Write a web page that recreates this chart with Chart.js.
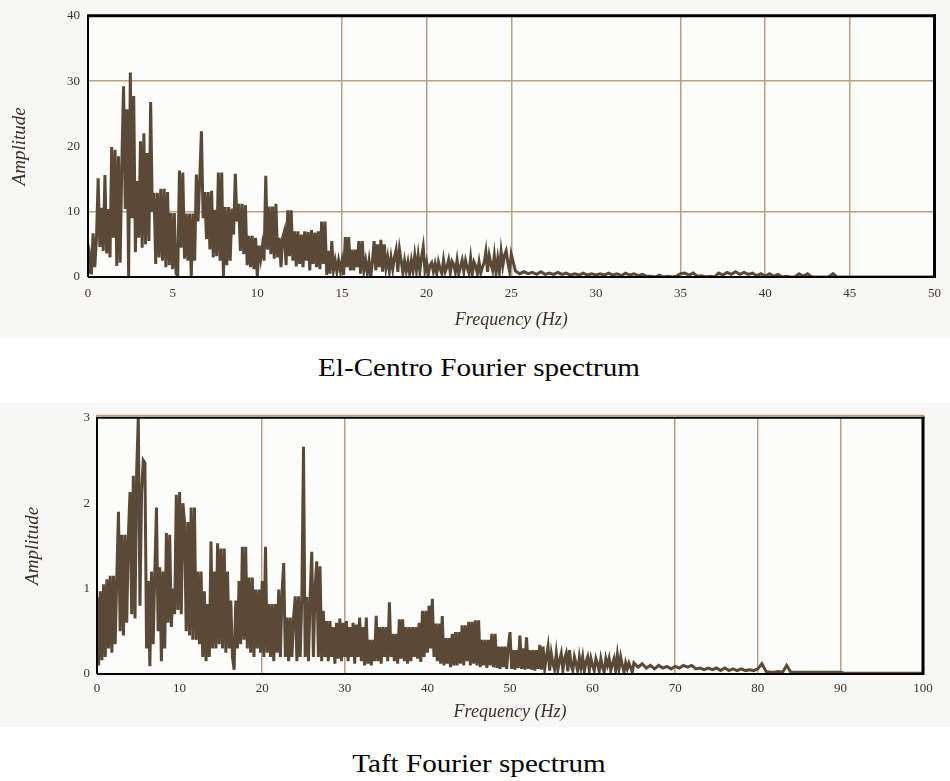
<!DOCTYPE html>
<html>
<head>
<meta charset="utf-8">
<script src="https://cdn.jsdelivr.net/npm/chart.js@4.4.0/dist/chart.umd.min.js"></script>
<style>
  body { margin: 0; width: 950px; height: 781px; position: relative; overflow: hidden; background: #fff; font-family: "Liberation Serif", serif; }
  .panel { position: absolute; left: 0; background: #f7f8f5; }
  #elWrap { top: 0; width: 950px; height: 337px; }
  #taftWrap { top: 403px; width: 950px; height: 324px; }
  .caption { position: absolute; left: 0; width: 958px; text-align: center; font-size: 26px; line-height: 30px; color: #000; transform: scaleX(1.12); transform-origin: 479px 50%; }
</style>
</head>
<body>
<div class="panel" id="elWrap"><canvas id="elChart" width="950" height="337"></canvas></div>
<div class="caption" style="top:353px">El-Centro Fourier spectrum</div>
<div class="panel" id="taftWrap"><canvas id="taftChart" width="950" height="324"></canvas></div>
<div class="caption" style="top:749px">Taft Fourier spectrum</div>
<script>
// El-Centro spectrum, 0.1 Hz bins from 0 to 25 Hz
const elStep = 0.1;
const elAmp = [
  0.5, 3.0, 0.4, 6.7, 1.5, 5.8, 15.1, 4.6, 10.6, 4.0,
  15.6, 3.6, 10.4, 3.0, 19.9, 6.0, 19.5, 1.7, 18.5, 2.2,
  17.6, 29.2, 10.4, 25.7, 0.0, 31.3, 9.0, 27.7, 3.8, 14.7,
  6.0, 20.8, 4.5, 22.0, 5.0, 19.0, 5.5, 26.8, 10.0, 12.9,
  2.0, 12.9, 3.0, 13.5, 2.5, 13.5, 1.5, 13.0, 1.8, 9.8,
  1.2, 9.8, 0.6, 0.0, 16.3, 4.5, 16.0, 2.8, 9.7, 2.5,
  9.7, 0.0, 9.7, 2.5, 15.7, 8.5, 15.0, 22.3, 9.0, 13.0,
  5.8, 13.0, 4.2, 13.2, 3.0, 10.3, 3.2, 16.0, 2.5, 16.0,
  0.0, 10.7, 1.8, 10.7, 2.5, 10.5, 6.5, 15.8, 8.5, 11.2,
  4.0, 11.2, 3.5, 11.0, 1.8, 6.3, 1.5, 6.3, 1.2, 6.0,
  0.0, 4.8, 2.8, 4.8, 2.5, 15.5, 4.2, 10.8, 3.5, 10.8,
  2.8, 11.2, 3.0, 6.0, 1.5, 6.0, 7.0, 1.8, 10.2, 3.2,
  10.2, 2.5, 7.0, 1.6, 7.0, 2.0, 6.5, 1.5, 7.0, 2.5,
  6.9, 1.0, 7.2, 2.0, 6.8, 1.5, 7.0, 1.2, 8.5, 2.0,
  8.5, 0.3, 4.0, 0.5, 5.5, 1.0, 2.5, 0.8, 2.5, 1.0,
  2.5, 0.3, 6.1, 1.5, 6.1, 1.0, 4.2, 1.0, 4.2, 1.5,
  5.5, 0.5, 5.5, 1.0, 2.5, 0.6, 2.5, 0.0, 2.4, 5.5,
  1.0, 5.0, 1.5, 5.7, 0.8, 5.0, 1.4, 3.0, 0.9, 3.0,
  1.2, 3.0, 4.2, 0.8, 4.2, 2.5, 0.6, 2.5, 0.9, 2.3,
  0.5, 2.5, 0.9, 3.3, 1.0, 3.3, 0.8, 3.0, 4.6, 1.0,
  2.3, 0.4, 1.8, 2.2, 0.8, 2.0, 0.5, 2.3, 1.2, 0.5,
  2.6, 0.8, 1.5, 2.6, 0.6, 2.4, 1.9, 0.7, 2.6, 0.5,
  1.6, 2.6, 0.8, 2.5, 1.4, 0.6, 2.9, 0.4, 2.3, 1.7,
  0.5, 2.3, 0.6, 1.5, 2.2, 3.9, 0.8, 3.3, 2.0, 1.0,
  3.3, 0.6, 2.8, 0.8, 3.9, 1.7, 3.3, 4.0, 2.2, 0.9,
  3.5
];
// El-Centro tail, 0.25 Hz bins from 25.25 to 50 Hz
const elTailStart = 25.25;
const elTailStep = 0.25;
const elTailAmp = [
  0.9, 0.5, 0.8, 0.5, 0.7, 0.4, 0.8, 0.4, 0.6, 0.4,
  0.7, 0.4, 0.6, 0.3, 0.5, 0.3, 0.6, 0.3, 0.5, 0.3,
  0.5, 0.3, 0.6, 0.3, 0.5, 0.2, 0.6, 0.3, 0.5, 0.2,
  0.4, 0.1, 0.1, 0.0, 0.3, 0.0, 0.1, 0.0, 0.1, 0.5,
  0.6, 0.3, 0.6, 0.1, 0.2, 0.0, 0.1, 0.0, 0.6, 0.3,
  0.7, 0.4, 0.8, 0.4, 0.7, 0.4, 0.6, 0.2, 0.5, 0.1,
  0.5, 0.1, 0.4, 0.0, 0.1, 0.0, 0.0, 0.5, 0.1, 0.5,
  0.0, 0.0, 0.0, 0.0, 0.0, 0.5, 0.0, 0.0, 0.0, 0.0,
  0.0, 0.0, 0.0, 0.0, 0.0, 0.0, 0.0, 0.0, 0.0, 0.0,
  0.0, 0.0, 0.0, 0.0, 0.0, 0.0, 0.0, 0.0, 0.0, 0.0
];
const elXTicks = [0, 5, 10, 15, 20, 25, 30, 35, 40, 45, 50];
const elYTicks = [0, 10, 20, 30, 40];
const elXGrid = [15, 20, 25, 35, 40, 45];
const elYGrid = [10, 30];

// Taft spectrum, 0.2 Hz bins from 0 to 65 Hz
const taftStep = 0.2;
const taftAmp = [
  0.9, 0.1, 0.97, 0.16, 1.05, 0.2, 1.11, 0.3, 1.15, 0.25,
  1.15, 0.35, 1.15, 1.9, 0.5, 1.63, 0.45, 1.63, 0.6, 1.63,
  2.13, 0.7, 2.32, 0.65, 2.36, 3.0, 0.8, 2.13, 2.5, 2.47,
  0.3, 1.09, 0.09, 1.2, 0.35, 1.2, 1.95, 0.5, 1.25, 0.15,
  1.2, 0.3, 1.65, 0.6, 1.63, 0.55, 1.0, 0.7, 2.1, 0.75,
  2.13, 0.7, 2.0, 1.78, 0.5, 1.78, 0.45, 1.95, 0.4, 1.95,
  0.4, 1.2, 0.35, 1.2, 0.2, 0.97, 0.15, 0.82, 0.2, 1.55,
  0.3, 1.2, 0.3, 1.53, 0.35, 1.47, 0.3, 1.47, 0.25, 1.2,
  0.3, 0.86, 0.2, 0.05, 0.86, 0.3, 1.09, 0.35, 1.49, 0.4,
  1.49, 0.3, 1.13, 0.25, 1.13, 0.2, 0.99, 0.3, 0.99, 0.25,
  1.09, 0.2, 1.49, 0.25, 0.82, 0.2, 0.82, 0.15, 0.82, 0.25,
  0.99, 0.2, 0.95, 1.3, 0.2, 0.66, 0.15, 0.66, 0.2, 0.66,
  0.91, 0.15, 0.91, 0.2, 0.9, 2.66, 0.2, 0.9, 0.15, 0.9,
  1.43, 0.2, 1.0, 1.32, 0.2, 1.26, 0.15, 0.74, 0.2, 0.62,
  0.15, 0.62, 0.2, 0.55, 0.12, 0.6, 0.18, 0.65, 0.15, 0.6,
  0.2, 0.62, 0.15, 0.55, 0.2, 0.6, 0.12, 0.58, 0.2, 0.66,
  0.15, 0.55, 0.1, 0.66, 0.12, 0.4, 0.1, 0.4, 0.15, 0.68,
  0.15, 0.55, 0.12, 0.55, 0.2, 0.55, 0.15, 0.84, 0.2, 0.47,
  0.15, 0.47, 0.12, 0.64, 0.18, 0.64, 0.15, 0.55, 0.12, 0.55,
  0.15, 0.55, 0.2, 0.55, 0.18, 0.6, 0.14, 0.74, 0.2, 0.74,
  0.25, 0.8, 0.3, 0.88, 0.2, 0.59, 0.15, 0.59, 0.12, 0.68,
  0.1, 0.42, 0.12, 0.42, 0.08, 0.47, 0.1, 0.49, 0.1, 0.49,
  0.12, 0.57, 0.1, 0.57, 0.15, 0.61, 0.1, 0.61, 0.12, 0.63,
  0.1, 0.63, 0.08, 0.4, 0.1, 0.4, 0.07, 0.4, 0.1, 0.47,
  0.08, 0.47, 0.07, 0.32, 0.06, 0.32, 0.08, 0.32, 0.06, 0.32,
  0.49, 0.06, 0.28, 0.05, 0.28, 0.07, 0.45, 0.06, 0.3, 0.05,
  0.43, 0.06, 0.28, 0.05, 0.28, 0.04, 0.28, 0.06, 0.34, 0.05,
  0.32, 0.06, 0.2, 0.32, 0.04, 0.24, 0.12, 0.05, 0.24, 0.05,
  0.16, 0.24, 0.04, 0.18, 0.24, 0.03, 0.28, 0.1, 0.04, 0.2,
  0.12, 0.03, 0.2, 0.08, 0.2, 0.03, 0.14, 0.2, 0.04, 0.18,
  0.1, 0.04, 0.18, 0.12, 0.03, 0.18, 0.08, 0.02, 0.18, 0.1,
  0.18, 0.04, 0.12, 0.18, 0.03, 0.22, 0.06, 0.2, 0.1, 0.02,
  0.13, 0.06, 0.13, 0.08, 0.02, 0.13
];
// Taft tail, 0.5 Hz bins from 65.5 to 100 Hz
const taftTailStart = 65.5;
const taftTailStep = 0.5;
const taftTailAmp = [
  0.08, 0.12, 0.07, 0.1, 0.06, 0.1, 0.07, 0.09, 0.06, 0.09,
  0.07, 0.1, 0.08, 0.1, 0.06, 0.07, 0.05, 0.07, 0.05, 0.07,
  0.04, 0.07, 0.04, 0.06, 0.04, 0.06, 0.04, 0.05, 0.04, 0.06,
  0.12, 0.03, 0.02, 0.02, 0.03, 0.02, 0.1, 0.02, 0.02, 0.02,
  0.02, 0.02, 0.02, 0.02, 0.02, 0.02, 0.02, 0.02, 0.02, 0.02,
  0.01, 0.01, 0.01, 0.01, 0.01, 0.01, 0.01, 0.01, 0.01, 0.01,
  0.01, 0.01, 0.01, 0.01, 0.01, 0.01, 0.01, 0.01, 0.01, 0.01
];
const taftXTicks = [0, 10, 20, 30, 40, 50, 60, 70, 80, 90, 100];
const taftYTicks = [0, 1, 2, 3];
const taftXGrid = [20, 30, 70, 80, 90];
const taftYGrid = [];

const lineColor = "#5a4937";
const gridColor = "#b9a082";
const tickColor = "#3d3127";

function toPoints(amps, start, step) {
  return amps.map((v, i) => ({ x: +(start + i * step).toFixed(2), y: v }));
}

// plot background and the frame round the plot
const framePlugin = {
  id: "frame",
  beforeDraw(chart, args, opts) {
    const { ctx, chartArea: a } = chart;
    ctx.save();
    ctx.fillStyle = opts.bg;
    ctx.fillRect(a.left, a.top, a.right - a.left, a.bottom - a.top);
    ctx.restore();
  },
  afterDatasetsDraw(chart, args, opts) {
    const { ctx, chartArea: a } = chart;
    ctx.save();
    ctx.strokeStyle = "#000";
    ctx.lineWidth = 2;
    ctx.beginPath();
    ctx.moveTo(a.left, a.top); ctx.lineTo(a.left, a.bottom);
    ctx.moveTo(a.left, a.bottom); ctx.lineTo(a.right, a.bottom);
    ctx.stroke();
    ctx.lineWidth = 3;
    ctx.beginPath();
    ctx.moveTo(a.right, a.top - 1.5); ctx.lineTo(a.right, a.bottom + 1);
    ctx.stroke();
    ctx.lineWidth = opts.topWidth;
    ctx.beginPath();
    ctx.moveTo(a.left - 1, a.top); ctx.lineTo(a.right + 1.5, a.top);
    ctx.stroke();
    if (opts.topAccent) {
      ctx.strokeStyle = opts.topAccent;
      ctx.lineWidth = 2;
      ctx.beginPath();
      ctx.moveTo(a.left - 1, a.top - 2); ctx.lineTo(a.right + 1.5, a.top - 2);
      ctx.stroke();
    }
    ctx.restore();
  }
};

function makeChart(id, cfg) {
  const tickFont = { family: "'Liberation Serif', serif", size: 13 };
  const xTitleFont = { family: "'Liberation Serif', serif", size: 18, style: "italic" };
  const yTitleFont = { family: "'Liberation Serif', serif", size: 19, style: "italic" };
  return new Chart(document.getElementById(id), {
    type: "line",
    data: {
      datasets: [{
        data: cfg.points,
        borderColor: lineColor,
        borderWidth: 3,
        pointRadius: 0,
        tension: 0,
        borderJoinStyle: "miter",
        fill: false
      }]
    },
    options: {
      responsive: false,
      animation: false,
      events: [],
      layout: { padding: cfg.padding },
      plugins: {
        legend: { display: false },
        tooltip: { enabled: false },
        frame: { bg: "#fcfdfb", topWidth: cfg.topWidth, topAccent: cfg.topAccent }
      },
      scales: {
        x: {
          type: "linear",
          min: cfg.xTicks[0],
          max: cfg.xTicks[cfg.xTicks.length - 1],
          afterBuildTicks: s => { s.ticks = cfg.xTicks.map(v => ({ value: v })); },
          afterFit: s => { s.height = cfg.xAxisHeight; },
          border: { display: false },
          grid: {
            drawTicks: false,
            lineWidth: 1.5,
            color: c => cfg.xGrid.includes(c.tick.value) ? gridColor : "rgba(0,0,0,0)"
          },
          ticks: { color: tickColor, font: tickFont, padding: cfg.xTickPad, maxRotation: 0 },
          title: {
            display: true,
            text: "Frequency (Hz)",
            color: tickColor,
            font: xTitleFont,
            padding: { top: 0, bottom: cfg.xTitlePad }
          }
        },
        y: {
          min: cfg.yTicks[0],
          max: cfg.yTicks[cfg.yTicks.length - 1],
          afterBuildTicks: s => { s.ticks = cfg.yTicks.map(v => ({ value: v })); },
          afterFit: s => { s.width = cfg.yAxisWidth; },
          border: { display: false },
          grid: {
            drawTicks: false,
            lineWidth: 1.5,
            color: c => cfg.yGrid.includes(c.tick.value) ? gridColor : "rgba(0,0,0,0)"
          },
          ticks: { color: tickColor, font: tickFont, padding: cfg.yTickPad },
          title: {
            display: true,
            text: "Amplitude",
            color: tickColor,
            font: yTitleFont,
            padding: { top: cfg.yTitlePad, bottom: 0 }
          }
        }
      }
    },
    plugins: [framePlugin]
  });
}

makeChart("elChart", {
  points: toPoints(elAmp, 0, elStep).concat(toPoints(elTailAmp, elTailStart, elTailStep)),
  xTicks: elXTicks, yTicks: elYTicks, xGrid: elXGrid, yGrid: elYGrid,
  padding: { left: 0, top: 10, right: 12, bottom: 0 },
  xAxisHeight: 60, yAxisWidth: 88,
  xTickPad: 9, yTickPad: 8, xTitlePad: 6, yTitlePad: 9,
  topWidth: 3, topAccent: null
});

makeChart("taftChart", {
  points: toPoints(taftAmp, 0, taftStep).concat(toPoints(taftTailAmp, taftTailStart, taftTailStep)),
  xTicks: taftXTicks, yTicks: taftYTicks, xGrid: taftXGrid, yGrid: taftYGrid,
  padding: { left: 0, top: 8, right: 27, bottom: 0 },
  xAxisHeight: 53, yAxisWidth: 97,
  xTickPad: 7, yTickPad: 7, xTitlePad: 4, yTitlePad: 22,
  topWidth: 2, topAccent: gridColor
});
</script>
</body>
</html>
